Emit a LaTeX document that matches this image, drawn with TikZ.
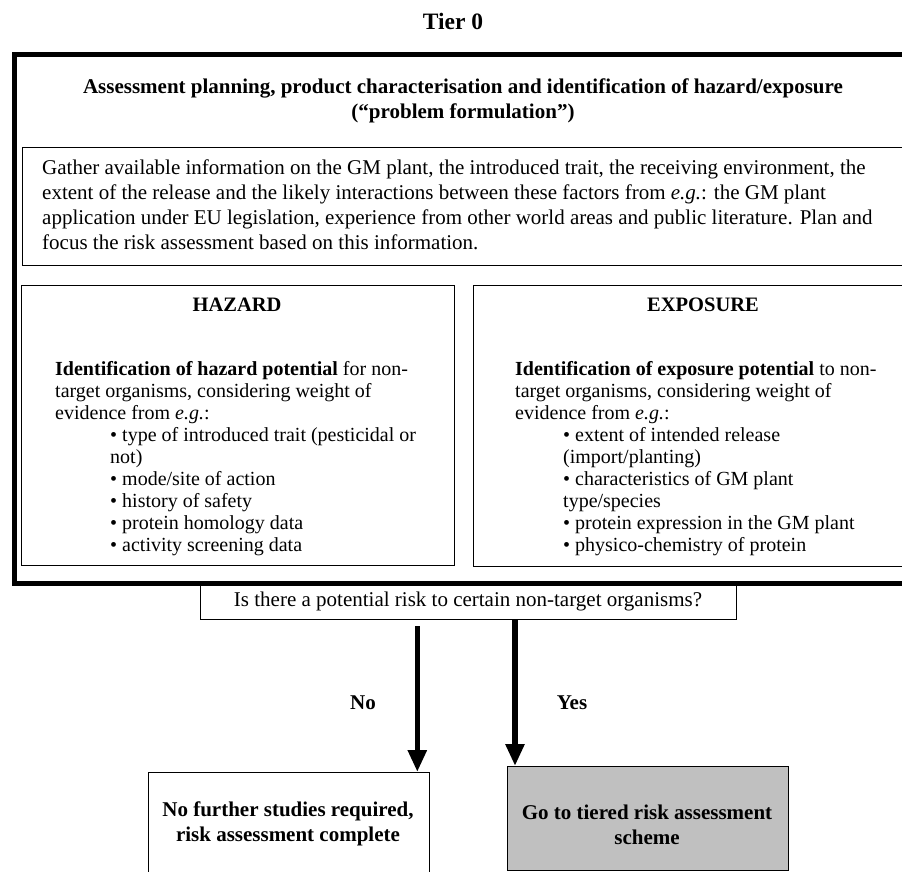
\documentclass[tikz,border=0pt]{standalone}
\usepackage{fontspec}
\setmainfont{Liberation Serif}
\usetikzlibrary{arrows.meta}
\definecolor{boxgray}{HTML}{C0C0C0}
\begin{document}
\begin{tikzpicture}[x=1pt,y=-1pt,
  box/.style={draw, line width=1.3pt, inner sep=0pt, anchor=north west},
  bodytext/.style={font=\fontsize{20}{22}\selectfont, inner sep=0pt, align=left, anchor=north west},
  headtext/.style={font=\fontsize{21}{24.5}\selectfont\bfseries, inner sep=0pt, align=center},
  arr/.style={line width=5.5pt, -{Triangle[width=18pt,length=22pt]}}]
\useasboundingbox (0,0) rectangle (902,871);
% title
\node[font=\fontsize{23.5}{27}\selectfont\bfseries, inner sep=0pt] (tier) at (453,21) {Tier 0};
% outer thick frame
\node[draw, line width=4.5pt, inner sep=0pt, anchor=north west, minimum width=900pt, minimum height=529pt] (outer) at (12,52) {};
\node[headtext] (head) at (463,101) {Assessment planning, product characterisation and identification of hazard/exposure\\(``problem formulation'')};
% gather box
\node[box, minimum width=890pt, minimum height=118pt] (gather) at (22,147) {};
\node[bodytext, font=\fontsize{21}{25}\selectfont] (gathertext) at (42,160) {Gather available information on the GM plant, the introduced trait, the receiving environment, the\\extent of the release and the likely interactions between these factors from \textit{e.g.}: the GM plant\\application under EU legislation, experience from other world areas and public literature. Plan and\\focus the risk assessment based on this information.};
% hazard box
\node[box, minimum width=433pt, minimum height=280pt] (hazard) at (21,285) {};
\node[headtext, font=\fontsize{20.5}{24}\selectfont\bfseries] (hazhead) at (237,305) {HAZARD};
\node[bodytext] (haztext) at (55,361) {\textbf{Identification of hazard potential} for non-\\target organisms, considering weight of\\evidence from \textit{e.g.}:};
\node[bodytext] (hazlist) at (110,427) {\textbullet{} type of introduced trait (pesticidal or\\not)\\\textbullet{} mode/site of action\\\textbullet{} history of safety\\\textbullet{} protein homology data\\\textbullet{} activity screening data};
% exposure box
\node[box, minimum width=440pt, minimum height=281pt] (expo) at (473,285) {};
\node[headtext, font=\fontsize{20.5}{24}\selectfont\bfseries] (expohead) at (703,305) {EXPOSURE};
\node[bodytext] (expotext) at (515,361) {\textbf{Identification of exposure potential} to non-\\target organisms, considering weight of\\evidence from \textit{e.g.}:};
\node[bodytext] (expolist) at (563,427) {\textbullet{} extent of intended release\\(import/planting)\\\textbullet{} characteristics of GM plant\\type/species\\\textbullet{} protein expression in the GM plant\\\textbullet{} physico-chemistry of protein};
% question
\node[box, minimum width=536pt, minimum height=37pt] (q) at (200,582) {};
\node[font=\fontsize{21}{24}\selectfont, inner sep=0pt] (qtext) at (468,601) {Is there a potential risk to certain non-target organisms?};
% outcome boxes
\node[box, minimum width=281pt, minimum height=108pt] (no) at (148,772) {};
\node[headtext] (notext) at (288,824) {No further studies required,\\risk assessment complete};
\node[box, fill=boxgray, minimum width=281pt, minimum height=104pt] (yes) at (507,766) {};
\node[headtext] (yestext) at (647,825) {Go to tiered risk assessment\\scheme};
% arrows
\coordinate (noin) at ([xshift=-13pt]no.north east);
\coordinate (yesin) at ([xshift=8pt]yes.north west);
\draw[arr] ([yshift=-6pt]q.south -| noin) -- (noin);
\draw[arr] (q.south -| yesin) -- (yesin);
\node[headtext] (nolabel) at (363,703) {No};
\node[headtext] (yeslabel) at (572,703) {Yes};
\end{tikzpicture}
\end{document}
